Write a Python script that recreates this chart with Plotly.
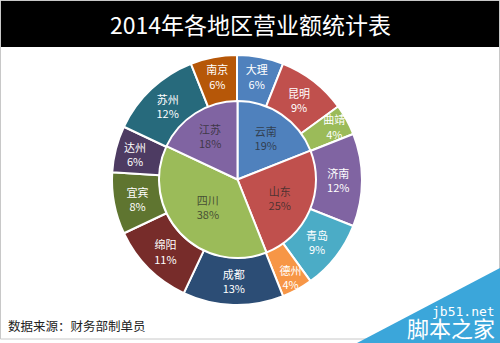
import plotly.graph_objects as go

# Province totals (inner pie) and city breakdown (outer ring), in percent
provinces = ["云南", "山东", "四川", "江苏"]
province_share = [19, 25, 38, 18]
province_colors = ["#4f81bd", "#c0504d", "#9bbb59", "#8064a2"]

cities = ["大理", "昆明", "曲靖", "济南", "青岛", "德州",
          "成都", "绵阳", "宜宾", "达州", "苏州", "南京"]
city_share = [6, 9, 4, 12, 9, 4, 13, 11, 8, 6, 12, 6]
city_colors = ["#4f81bd", "#c0504d", "#9bbb59", "#8064a2", "#4bacc6", "#f79646",
               "#2c4d75", "#772c2a", "#5f7530", "#4d3b62", "#276a7c", "#b65708"]

title_text = "2014年各地区营业额统计表"
source_text = "数据来源：财务部制单员"

W, H = 500, 343
FONT = "Noto Sans CJK SC, Microsoft YaHei, sans-serif"


def px_x(x):
    return x / W


def px_y(y):
    return 1 - y / H


fig = go.Figure()

# Outer ring: cities
fig.add_trace(go.Pie(
    labels=cities, values=city_share, sort=False, direction="clockwise", rotation=0,
    hole=0.62,
    domain=dict(x=[px_x(112), px_x(362)], y=[px_y(305), px_y(55)]),
    marker=dict(colors=city_colors, line=dict(color="white", width=2)),
    texttemplate="%{label}<br>%{value}%", textposition="inside",
    insidetextorientation="horizontal",
    textfont=dict(family=FONT, size=11, color="white"),
    hoverinfo="label+value", showlegend=False,
))

# Inner pie: provinces
fig.add_trace(go.Pie(
    labels=provinces, values=province_share, sort=False, direction="clockwise", rotation=0,
    domain=dict(x=[px_x(159), px_x(316)], y=[px_y(258), px_y(101)]),
    marker=dict(colors=province_colors, line=dict(color="white", width=2)),
    texttemplate="%{label}<br>%{value}%", textposition="inside",
    insidetextorientation="horizontal",
    textfont=dict(family=FONT, size=11, color="rgba(40,40,40,0.75)"),
    hoverinfo="label+value", showlegend=False,
))

shapes = [
    # outer frame
    dict(type="rect", xref="paper", yref="paper", x0=px_x(0.5), x1=px_x(499.5),
         y0=px_y(339), y1=px_y(0.5), line=dict(color="#c8c8c8", width=1),
         fillcolor="rgba(0,0,0,0)", layer="below"),
    # title bar
    dict(type="rect", xref="paper", yref="paper", x0=px_x(1), x1=px_x(499),
         y0=px_y(47), y1=px_y(1), line=dict(width=0), fillcolor="black", layer="below"),
    # corner badge
    dict(type="path", xref="paper", yref="paper",
         path=f"M {px_x(357)} {px_y(343)} L {px_x(500)} {px_y(343)} L {px_x(500)} {px_y(268)} Z",
         line=dict(width=0), fillcolor="#3ba6da", layer="above"),
]

annotations = [
    dict(text=title_text, x=0.5, y=px_y(24), xref="paper", yref="paper",
         showarrow=False, xanchor="center", yanchor="middle",
         font=dict(family=FONT, size=23, color="white")),
    dict(text=source_text, x=px_x(6), y=px_y(325), xref="paper", yref="paper",
         showarrow=False, xanchor="left", yanchor="middle",
         font=dict(family=FONT, size=12.5, color="#222222")),
    dict(text="jb51.net", x=px_x(497), y=px_y(311), xref="paper", yref="paper",
         showarrow=False, xanchor="right", yanchor="middle",
         font=dict(family="DejaVu Sans Mono, monospace", size=13, color="white")),
    dict(text="脚本之家", x=px_x(497), y=px_y(327), xref="paper", yref="paper",
         showarrow=False, xanchor="right", yanchor="middle",
         font=dict(family=FONT, size=22, color="white")),
]

fig.update_layout(
    width=W, height=H, margin=dict(l=0, r=0, t=0, b=0),
    paper_bgcolor="white", plot_bgcolor="white",
    uniformtext=dict(minsize=11, mode="show"),
    shapes=shapes, annotations=annotations,
)

fig.write_html("out.html")
